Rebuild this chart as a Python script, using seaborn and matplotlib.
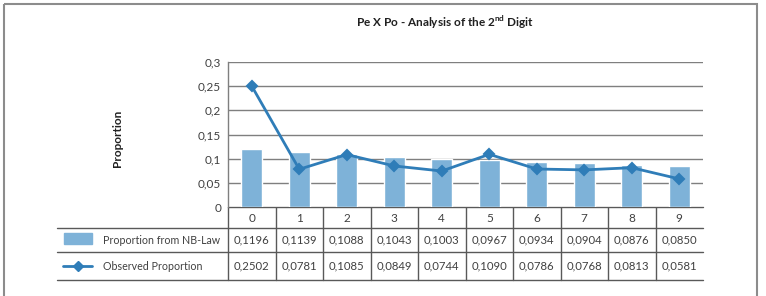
import numpy as np
import pandas as pd
import matplotlib.pyplot as plt
import seaborn as sns
from matplotlib.patches import Rectangle
from matplotlib.lines import Line2D

# data
digits = ['0', '1', '2', '3', '4', '5', '6', '7', '8', '9']
nb_law = [0.1196, 0.1139, 0.1088, 0.1043, 0.1003, 0.0967, 0.0934, 0.0904, 0.0876, 0.0850]
observed = [0.2502, 0.0781, 0.1085, 0.0849, 0.0744, 0.1090, 0.0786, 0.0768, 0.0813, 0.0581]
series_names = ['Proportion from NB-Law', 'Observed Proportion']
y_ticks = [0, 0.05, 0.1, 0.15, 0.2, 0.25, 0.3]

bar_color = '#7eb2d8'
line_color = '#2f7db8'
grid_color = '#7f7f7f'
fs = 8.2

sns.set_theme(style='white')
plt.rcParams['font.family'] = ['Lato', 'DejaVu Sans']

W, H = 766, 296
fig = plt.figure(figsize=(W / 100, H / 100), dpi=100)

# plot area in pixel coords
x0, x1 = 228, 703
y_top, y_axis = 62, 207
ax = fig.add_axes([x0 / W, 1 - y_axis / H, (x1 - x0) / W, (y_axis - y_top) / H])

df = pd.DataFrame({'digit': digits, 'nb': nb_law, 'obs': observed})
sns.barplot(data=df, x='digit', y='nb', color=bar_color, saturation=1, width=0.44, ax=ax, zorder=2)
sns.pointplot(data=df, x='digit', y='obs', color=line_color, markers='D', ax=ax,
              linewidth=2.0, markersize=5, zorder=4)

ax.set_ylim(0, 0.3)
ax.set_xlim(-0.5, len(digits) - 0.5)
ax.set_yticks(y_ticks)
ax.set_yticklabels([f'{t:g}'.replace('.', ',') for t in y_ticks], fontsize=fs + 0.3, color='#404040')
ax.yaxis.grid(True, color=grid_color, linewidth=1)
ax.set_axisbelow(True)
ax.tick_params(axis='y', length=0, pad=5)
ax.tick_params(axis='x', length=0, pad=4.5, labelsize=fs + 0.3, labelcolor='#404040')
ax.set_xlabel('')
ax.set_ylabel('')
for s in ['top', 'right', 'bottom']:
    ax.spines[s].set_visible(False)
ax.spines['left'].set_color(grid_color)
ax.spines['left'].set_linewidth(1)

# overlay in pixel coords for table, title, frame
ov = fig.add_axes([0, 0, 1, 1], zorder=-1)
ov.set_xlim(0, W)
ov.set_ylim(H, 0)
ov.axis('off')

# outer frame
ov.add_patch(Rectangle((4, 4), 753, 300, fill=False, edgecolor='#8c8c8c', linewidth=1.5))

fig.text(445 / W, 1 - 22 / H, r'Pe X Po - Analysis of the 2$^{\mathregular{nd}}$ Digit',
         ha='center', va='center', fontsize=8.5, fontweight='bold', color='#202020')
fig.text(117 / W, 1 - 138 / H, 'Proportion', rotation=90, ha='center', va='center',
         fontsize=8.5, fontweight='bold', color='#202020')

# data table
tab_left = 57
rows = [207, 228, 252, 280]
col_w = (x1 - x0) / len(digits)
lc = '#595959'
for y in rows:
    ov.add_line(Line2D([tab_left if y > 207 else x0, x1], [y, y], color=lc, linewidth=1))
for i in range(len(digits)):
    xb = x0 + i * col_w
    ov.add_line(Line2D([xb, xb], [rows[0], rows[-1]], color=lc, linewidth=1))

for r, vals in enumerate([nb_law, observed]):
    yc = (rows[r + 1] + rows[r + 2]) / 2
    for i, v in enumerate(vals):
        ov.text(x0 + (i + 0.5) * col_w, yc, f'{v:.4f}'.replace('.', ','),
                ha='center', va='center', fontsize=fs, color='#404040')
    ov.text(103, yc, series_names[r], ha='left', va='center', fontsize=7.7, color='#404040')

# legend keys
ov.add_patch(Rectangle((64, 233), 28, 11, color=bar_color))
yk = (rows[2] + rows[3]) / 2
ov.add_line(Line2D([63, 92], [yk, yk], color=line_color, linewidth=2.0))
ov.add_line(Line2D([77.5], [yk], color=line_color, marker='D', markersize=5))

fig.savefig('out.png', dpi=100)
